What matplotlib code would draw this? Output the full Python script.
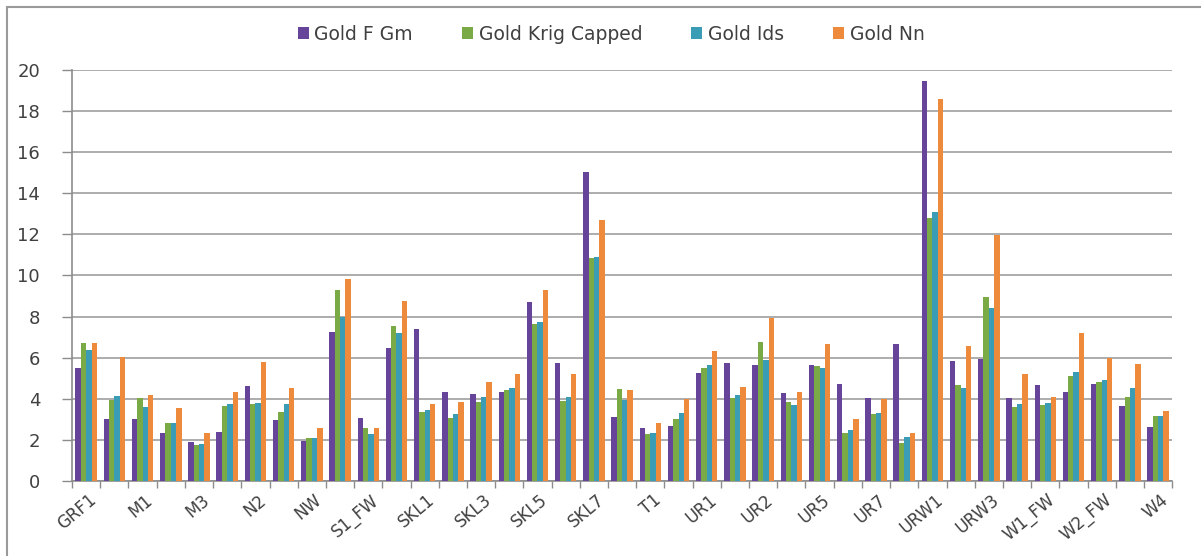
import numpy as np
import matplotlib.pyplot as plt
from matplotlib.patches import Rectangle
from matplotlib.transforms import ScaledTranslation

# categories (only every other one is labelled on the axis)
zones = ["GRF1", "GRF2", "M1", "M2", "M3", "N1", "N2", "N3", "NW", "S1",
         "S1_FW", "S2", "SKL1", "SKL2", "SKL3", "SKL4", "SKL5", "SKL6", "SKL7", "SKL8",
         "T1", "T2", "UR1", "UR10", "UR2", "UR4", "UR5", "UR6", "UR7", "UR8",
         "URW1", "URW2", "URW3", "W1", "W1_FW", "W2", "W2_FW", "W3", "W4"]

gold_f_gm = [5.5, 3.0, 3.0, 2.35, 1.88, 2.4, 4.6, 2.97, 1.95, 7.27,
             3.08, 6.46, 7.4, 4.31, 4.22, 4.31, 8.69, 5.73, 15.05, 3.13,
             2.56, 2.68, 5.27, 5.73, 5.64, 4.27, 5.64, 4.72, 4.06, 6.65,
             19.48, 5.86, 5.92, 4.02, 4.67, 4.31, 4.7, 3.67, 2.61]
gold_krig_capped = [6.73, 3.94, 4.02, 2.8, 1.75, 3.67, 3.75, 3.37, 2.08, 9.29,
                    2.56, 7.56, 3.37, 3.08, 3.83, 4.43, 7.64, 3.91, 10.84, 4.46,
                    2.29, 3.0, 5.51, 4.02, 6.75, 3.86, 5.6, 2.35, 3.24, 1.87,
                    12.78, 4.67, 8.97, 3.62, 3.7, 5.11, 4.83, 4.1, 3.18]
gold_ids = [6.37, 4.14, 3.62, 2.84, 1.8, 3.73, 3.78, 3.75, 2.08, 8.0,
            2.29, 7.19, 3.45, 3.24, 4.1, 4.51, 7.72, 4.1, 10.92, 3.94,
            2.32, 3.29, 5.64, 4.18, 5.89, 3.7, 5.48, 2.48, 3.33, 2.12,
            13.1, 4.51, 8.43, 3.75, 3.81, 5.32, 4.91, 4.51, 3.18]
gold_nn = [6.73, 6.05, 4.18, 3.54, 2.32, 4.35, 5.81, 4.54, 2.56, 9.83,
           2.56, 8.78, 3.73, 3.83, 4.8, 5.19, 9.29, 5.19, 12.7, 4.43,
           2.8, 3.97, 6.33, 4.59, 7.92, 4.35, 6.65, 3.0, 3.97, 2.32,
           18.59, 6.59, 11.97, 5.19, 4.1, 7.19, 5.97, 5.68, 3.41]

series = [("Gold F Gm", gold_f_gm, "#66449A"),
          ("Gold Krig Capped", gold_krig_capped, "#7AAA46"),
          ("Gold Ids", gold_ids, "#3A9DB5"),
          ("Gold Nn", gold_nn, "#EE8A3C")]

plt.rcParams['font.family'] = ['DejaVu Sans']

fig = plt.figure(figsize=(12.01, 5.56), dpi=100)
ax = fig.add_axes([0.06, 0.135, 0.916, 0.739])

# chart frame (Excel style, cut at right/bottom)
fig.patches.append(Rectangle((7 / 1201, -0.1), 1188 / 1201 + 0.1, 1.1 - 7 / 556,
                             transform=fig.transFigure, fill=False,
                             edgecolor="#9A9A9A", linewidth=1.5))

x = np.arange(len(zones))
w = 0.19
for i, (name, vals, col) in enumerate(series):
    ax.bar(x + (i - 1.5) * w, vals, width=w, color=col, label=name, zorder=3)

ax.set_xlim(-0.5, len(zones) - 0.5)
ax.set_ylim(0, 20)
ax.set_yticks(np.arange(0, 21, 2))
ax.yaxis.grid(True, color="#A6A6A6", linewidth=1.3, zorder=0)

# ticks between categories, labels on every other category
ax.set_xticks(np.arange(-0.5, len(zones), 1.0))
ax.set_xticklabels([])
ax.tick_params(axis="x", length=5, color="#8C8C8C", width=1)
for k in range(0, len(zones), 2):
    ax.text(x[k], 0, zones[k], rotation=40, rotation_mode="anchor",
            ha="right", va="center", fontsize=12, color="#404040",
            transform=ax.get_xaxis_transform() + ScaledTranslation(8 / 100, -17 / 100, fig.dpi_scale_trans))

ax.tick_params(axis="y", length=7, color="#8C8C8C", width=1, labelsize=13,
               labelcolor="#404040", pad=16)
for s in ["top", "right"]:
    ax.spines[s].set_visible(False)
for s in ["left", "bottom"]:
    ax.spines[s].set_color("#8C8C8C")
    ax.spines[s].set_linewidth(1.2)

fig.legend(loc="center", bbox_to_anchor=(611 / 1201, 1 - 34 / 556), ncol=4,
           frameon=False, fontsize=13.5, handlelength=0.6, handleheight=0.6,
           handletextpad=0.3, columnspacing=2.6, labelcolor="#404040")

fig.savefig("out.png", dpi=100)
